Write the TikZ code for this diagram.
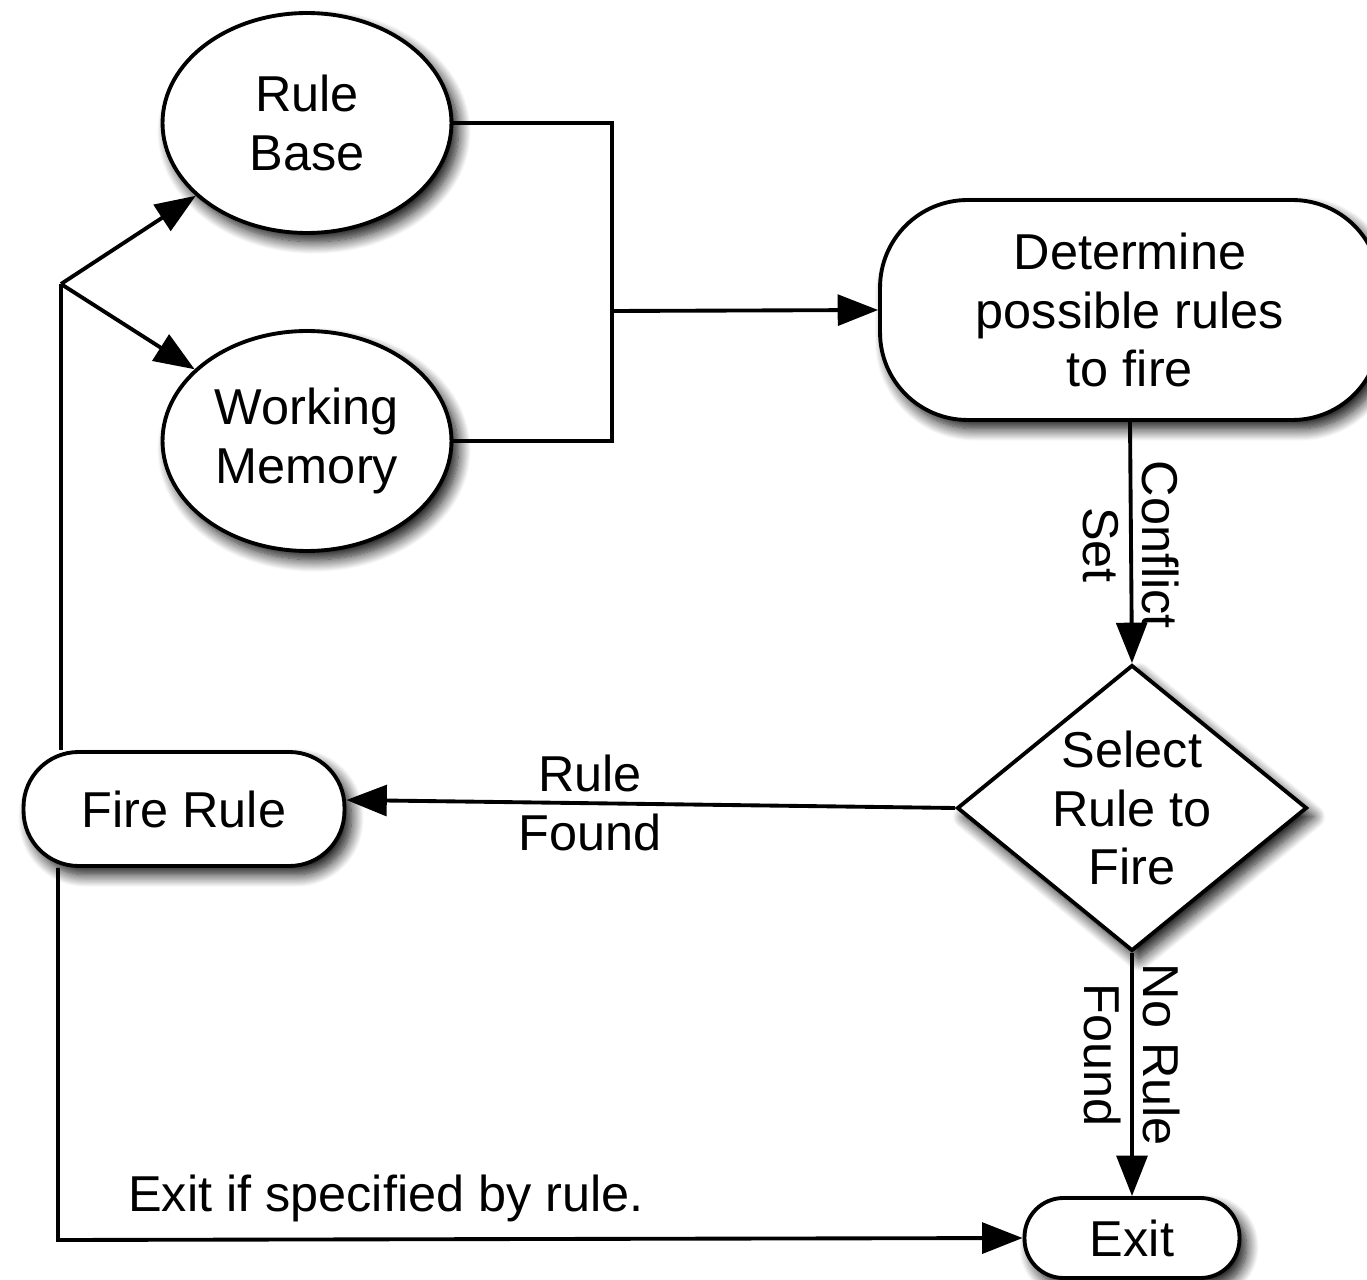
\documentclass[tikz,border=0pt]{standalone}
\usepackage{fontspec}
\setmainfont{Liberation Sans}
\usetikzlibrary{shapes.geometric,arrows.meta,shadows.blur,backgrounds}

\tikzset{
  txt/.style={font=\fontsize{28.7}{33.5}\selectfont, align=center},
  shade/.style={blur shadow={shadow xshift=4pt, shadow yshift=-5pt,
      shadow blur radius=7pt, shadow blur steps=14, shadow opacity=95}},
  outline/.style={draw=black, line width=2.2pt, fill=white, shade, inner sep=0pt},
  store/.style={outline, ellipse, minimum width=5.78cm, minimum height=4.4cm},
  process/.style={outline, rectangle, rounded corners=1.75cm,
      minimum width=10cm, minimum height=4.4cm},
  terminal/.style={outline, rectangle},
  decision/.style={outline, diamond, minimum width=7cm, minimum height=5.72cm},
  link/.style={draw=black, line width=2.2pt},
  arrow/.style={link, -{Triangle[length=23pt, width=17.5pt]}},
}

\begin{document}
\begin{tikzpicture}[x=0.02cm, y=-0.02cm]
  \useasboundingbox (0,0) rectangle (1367,1280);

  % knowledge stores
  \node[store, txt] (rb) at (307,123) {Rule\\Base};
  \node[store, txt] (wm) at (307,441) {Working\\Memory};

  % matching step
  \node[process, txt] (det) at (1130,310) {Determine\\possible rules\\to fire};

  % conflict resolution
  \node[decision, label={[txt]center:Select\\Rule to\\Fire}] (sel) at (1132,808) {};

  % actions
  \node[terminal, txt, rounded corners=1.1cm, minimum width=6.42cm,
        minimum height=2.28cm] (fire) at (184,809) {Fire Rule};
  \node[terminal, txt, rounded corners=0.78cm, minimum width=4.3cm,
        minimum height=1.6cm] (exit) at (1132,1238) {Exit};

  % routing points
  \coordinate (junc) at (612,311);
  \coordinate (fork) at (61,284);
  \coordinate (corner) at (58,1240);

  \begin{pgfonlayer}{background}
    % stores feed the matcher
    \draw[link] (rb.east) -- (rb.east -| junc) -- (wm.east -| junc) -- (wm.east);
    \draw[arrow] (junc) -- (det.west);

    % conflict set
    \draw[arrow] (det.south) -- node[txt, rotate=-90, pos=0.51] {Conflict\\Set} (sel.north);

    % rule found
    \draw[arrow] (sel.west) -- node[txt, pos=0.6] {Rule\\Found} ([yshift=0.18cm]fire.east);

    % no rule found
    \draw[arrow] (sel.south) -- node[txt, rotate=-90, pos=0.42] {No Rule\\Found} (exit.north);

    % firing updates both stores
    \draw[link] (fire.north -| fork) -- (fork);
    \draw[arrow] (fork) -- (rb);
    \draw[arrow] (fork) -- (wm);

    % exit on request
    \draw[arrow] (fire.south -| corner) -- (corner) -- (exit.west);
  \end{pgfonlayer}

  \node[txt, anchor=west] (note) at (122,1198) {Exit if specified by rule.};
\end{tikzpicture}
\end{document}
